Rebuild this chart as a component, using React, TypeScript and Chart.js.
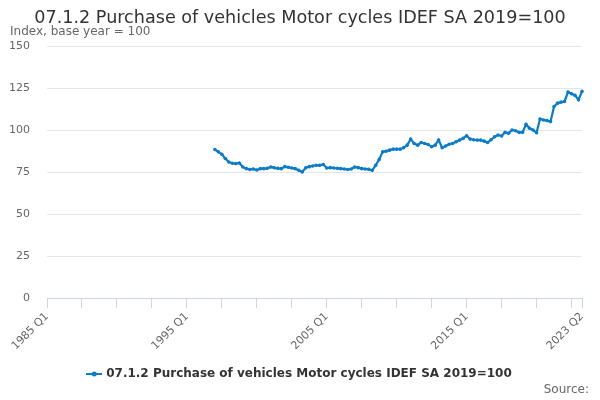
import React, { useEffect, useRef } from 'react';
import Chart from 'chart.js/auto';

const TITLE = '07.1.2 Purchase of vehicles Motor cycles IDEF SA 2019=100';
const SUBTITLE = 'Index, base year = 100';
const SERIES_NAME = '07.1.2 Purchase of vehicles Motor cycles IDEF SA 2019=100';

// quarterly categories, 1985 Q1 .. 2023 Q2
const firstYear = 1985;
const lastYear = 2023;
const lastQuarter = 2;
const quarters: string[] = [];
for (let y = firstYear; y <= lastYear; y++) {
  for (let q = 1; q <= 4; q++) {
    if (y === lastYear && q > lastQuarter) break;
    quarters.push(`${y} Q${q}`);
  }
}

// series starts in 1997 Q1
const seriesStart = '1997 Q1';
const values = [
  88.4, 87, 85.6, 83,
  81, 80.2, 80, 80.4,
  78, 77, 76.5, 76.8,
  76.2, 77, 77, 77.2,
  78, 77.5, 77.2, 77,
  78.2, 77.8, 77.4, 77,
  76, 75, 77.5, 78.2,
  78.6, 79, 79, 79.5,
  77.4, 77.6, 77.4, 77.2,
  77, 76.8, 76.5, 76.8,
  78, 77.6, 77, 76.8,
  76.6, 76, 79, 82.5,
  87, 87.4, 88, 88.6,
  88.6, 88.6, 89.5, 91,
  94.6, 92, 91, 92.6,
  92, 91.4, 90, 91,
  94, 89.4, 90.5, 91.5,
  92, 93, 94, 95,
  96.6, 94.6, 94.2, 94,
  94, 93.4, 92.6, 94.2,
  96, 97, 96.4, 98.6,
  98, 100, 99.6, 98.6,
  98.6, 103.4, 101, 100,
  98.4, 106.6, 106, 105.6,
  105, 114, 116, 116.6,
  117, 122.6, 121.6, 120.6,
  118, 123,
];

const yTicks = [0, 25, 50, 75, 100, 125, 150];
const LINE = '#0C7CC6';
const AXIS = '#ccd6eb';

const App: React.FC = () => {
  const canvasRef = useRef<HTMLCanvasElement | null>(null);

  useEffect(() => {
    document.body.style.margin = '0';
    if (!canvasRef.current) return;

    const startIdx = quarters.indexOf(seriesStart);
    const data = quarters.map((_, i) =>
      i >= startIdx && i - startIdx < values.length ? values[i - startIdx] : null
    );
    const last = quarters.length - 1;

    // legend symbol: short line with a dot
    const sym = document.createElement('canvas');
    sym.width = 16;
    sym.height = 8;
    const sc = sym.getContext('2d')!;
    sc.strokeStyle = LINE;
    sc.lineWidth = 2;
    sc.beginPath();
    sc.moveTo(0, 4);
    sc.lineTo(16, 4);
    sc.stroke();
    sc.fillStyle = LINE;
    sc.beginPath();
    sc.arc(8, 4, 2.5, 0, Math.PI * 2);
    sc.fill();

    const sourcePlugin = {
      id: 'sourceNote',
      afterDraw(chart: Chart) {
        const ctx = chart.ctx;
        ctx.save();
        ctx.font = '12px "DejaVu Sans"';
        ctx.fillStyle = '#666666';
        ctx.textAlign = 'right';
        ctx.textBaseline = 'middle';
        ctx.fillText('Source:', 589, 390);
        ctx.restore();
      },
    };

    const chart = new Chart(canvasRef.current, {
      type: 'line',
      data: {
        labels: quarters,
        datasets: [
          {
            label: SERIES_NAME,
            data,
            borderColor: LINE,
            backgroundColor: LINE,
            borderWidth: 2.2,
            pointRadius: 1.8,
            pointBorderWidth: 0,
            pointStyle: 'circle',
            tension: 0,
          },
        ],
      },
      options: {
        animation: false,
        responsive: false,
        layout: { padding: { left: 10, right: 10, top: 0, bottom: 10 } },
        plugins: {
          title: {
            display: true,
            text: TITLE,
            color: '#333333',
            font: { family: 'DejaVu Sans', size: 17.6, weight: 'normal', lineHeight: 1.2 },
            padding: { top: 8, bottom: 0 },
          },
          subtitle: {
            display: true,
            text: SUBTITLE,
            align: 'start',
            color: '#666666',
            font: { family: 'DejaVu Sans', size: 12, lineHeight: 1.2 },
            padding: { top: -4, bottom: 6.5 },
          },
          legend: {
            position: 'bottom',
            labels: {
              usePointStyle: true,
              pointStyle: sym,
              color: '#333333',
              font: { family: 'DejaVu Sans', size: 12, weight: 'bold' },
              padding: 10,
              generateLabels: (c) =>
                Chart.defaults.plugins.legend.labels
                  .generateLabels(c)
                  .map((l) => ({ ...l, pointStyle: sym })),
            },
          },
          tooltip: { enabled: false },
        },
        scales: {
          x: {
            afterFit: (s: any) => {
              s.height = 60;
              s.paddingRight = 18;
            },
            grid: {
              display: true,
              drawOnChartArea: false,
              drawTicks: true,
              tickLength: 10,
              color: (ctx: any) =>
                ctx.index % 10 === 0 || ctx.index === last ? AXIS : 'rgba(0,0,0,0)',
            },
            border: { display: true, color: AXIS, width: 1 },
            ticks: {
              autoSkip: false,
              maxRotation: 45,
              minRotation: 45,
              color: '#666666',
              font: { family: 'DejaVu Sans', size: 11 },
              padding: 2,
              callback: (_v: any, i: number) =>
                i % 40 === 0 || i === last ? quarters[i] : '',
            },
          },
          y: {
            min: 0,
            max: 150,
            afterBuildTicks: (s: any) => {
              s.ticks = yTicks.map((v) => ({ value: v }));
            },
            afterFit: (s: any) => {
              s.width = 37;
            },
            grid: { color: '#e6e6e6', drawTicks: false },
            border: { display: false },
            ticks: {
              color: '#666666',
              font: { family: 'DejaVu Sans', size: 11 },
              padding: 17,
            },
          },
        },
      },
      plugins: [sourcePlugin],
    });

    return () => chart.destroy();
  }, []);

  return <canvas ref={canvasRef} width={600} height={400} />;
};

export default App;
